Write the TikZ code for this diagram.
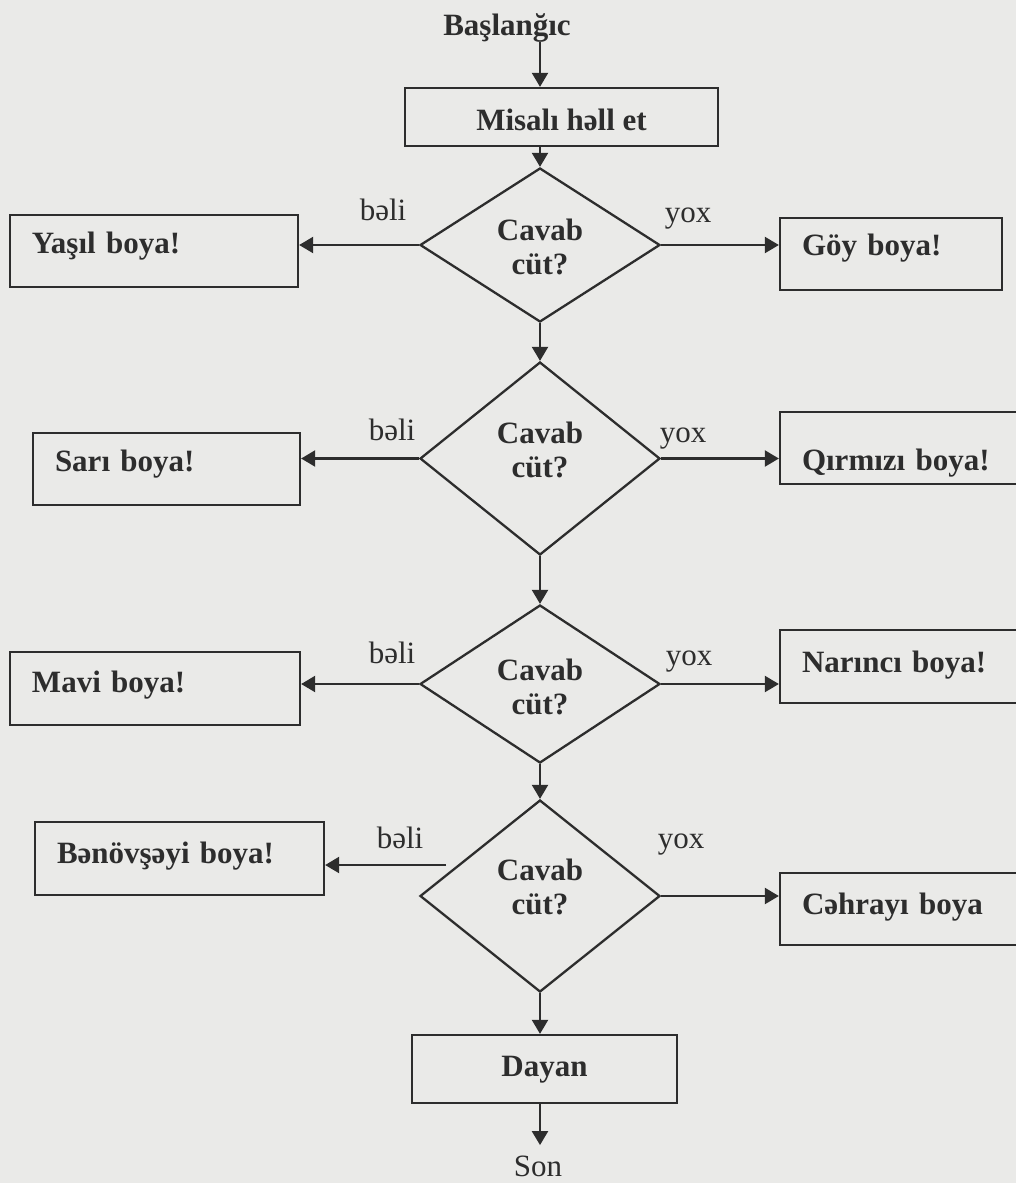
\documentclass[tikz,border=0pt]{standalone}
\usepackage{fontspec}
\setmainfont{Liberation Serif}
\usetikzlibrary{shapes.geometric,arrows.meta}
\definecolor{bg}{RGB}{234,234,232}
\definecolor{ink}{RGB}{45,45,45}
\begin{document}
\begin{tikzpicture}[x=0.5pt,y=-0.5pt,
  box/.style={draw=ink, line width=1.15pt, text=ink, inner xsep=11pt, inner ysep=0pt,
    font=\fontsize{15.5}{18}\selectfont\bfseries, text depth=0pt},
  lbox/.style={box, align=left},
  dec/.style={draw=ink, line width=1.15pt, shape=diamond, inner sep=0pt, minimum width=120pt},
  dtext/.style={font=\fontsize{15.5}{17}\selectfont\bfseries, text=ink, align=center, inner sep=0pt},
  lbl/.style={font=\fontsize{15.5}{18}\selectfont, text=ink, inner sep=0pt, anchor=base},
  arr/.style={draw=ink, line width=1.15pt, -{Triangle[length=7pt,width=8pt]}}]
\clip (0,0) rectangle (1016,1183);
\fill[bg] (0,0) rectangle (1016,1183);

% start / end texts
\node[dtext, anchor=base] (start) at (507,35) {Başlanğıc};
\node[lbl] (son) at (538,1176) {Son};

% process boxes
\node[box, minimum width=156.5pt, minimum height=29pt, text height=13pt] (misal) at (561.5,117) {Misalı həll et};
\node[box, minimum width=132.5pt, minimum height=34pt, text height=7pt] (dayan) at (544.5,1069) {Dayan};

% decisions
\node[dec, minimum height=77pt] (d1) at (540,245) {};
\node[dec, minimum height=96.5pt] (d2) at (540,458.5) {};
\node[dec, minimum height=79pt] (d3) at (540,684) {};
\node[dec, minimum height=96pt] (d4) at (540,896) {};
\node[dtext] (t1) at (540,247) {Cavab\\cüt?};
\node[dtext] (t2) at (540,449.5) {Cavab\\cüt?};
\node[dtext] (t3) at (540,687) {Cavab\\cüt?};
\node[dtext] (t4) at (540,887) {Cavab\\cüt?};

% colour boxes
\node[lbox, minimum width=144pt, minimum height=36pt, text width=122pt, text height=2pt] (yasil) at (154,251) {Yaşıl boya!};
\node[lbox, minimum width=111pt, minimum height=36pt, text width=89pt, text height=1pt] (goy) at (891,254) {Göy boya!};
\node[lbox, minimum width=133.5pt, minimum height=36pt, text width=111.5pt, text height=2pt] (sari) at (166.5,469) {Sarı boya!};
\node[lbox, minimum width=120pt, minimum height=36pt, text width=98pt, text height=22pt] (qirmizi) at (900,448) {Qırmızı boya!};
\node[lbox, minimum width=145pt, minimum height=36.5pt, text width=123pt, text height=4pt] (mavi) at (155,688.5) {Mavi boya!};
\node[lbox, minimum width=120pt, minimum height=36.5pt, text width=98pt, text height=6pt] (narinci) at (900,666.5) {Narıncı boya!};
\node[lbox, minimum width=144.5pt, minimum height=36.5pt, text width=122.5pt, text height=5pt] (benov) at (179.5,858.5) {Bənövşəyi boya!};
\node[lbox, minimum width=120pt, minimum height=36pt, text width=98pt, text height=5pt] (cehrayi) at (900,909) {Cəhrayı boya};

% labels
\node[lbl] (b1) at (383,220) {bəli};
\node[lbl] (y1) at (688,222) {yox};
\node[lbl] (b2) at (392,440) {bəli};
\node[lbl] (y2) at (683,442) {yox};
\node[lbl] (b3) at (392,663) {bəli};
\node[lbl] (y3) at (689,665) {yox};
\node[lbl] (b4) at (400,848) {bəli};
\node[lbl] (y4) at (681,848) {yox};

% main flow
\draw[arr] (d1.north |- start.south) -- (d1.north |- misal.north);
\draw[arr] (d1.north |- misal.south) -- (d1.north);
\draw[arr] (d1.south) -- (d2.north);
\draw[arr] (d2.south) -- (d3.north);
\draw[arr] (d3.south) -- (d4.north);
\draw[arr] (d4.south) -- (d4.south |- dayan.north);
\draw[arr, shorten >=5pt] (d4.south |- dayan.south) -- (d4.south |- son.north);

% branches
\draw[arr] (d1.west) -- (d1.west -| yasil.east);
\draw[arr] (d1.east) -- (d1.east -| goy.west);
\draw[arr] (d2.west) -- (d2.west -| sari.east);
\draw[arr] (d2.east) -- (d2.east -| qirmizi.west);
\draw[arr] (d3.west) -- (d3.west -| mavi.east);
\draw[arr] (d3.east) -- (d3.east -| narinci.west);
\coordinate (d4b) at (446,865);
\draw[arr] (d4b) -- (d4b -| benov.east);
\draw[arr] (d4.east) -- (d4.east -| cehrayi.west);
\end{tikzpicture}
\end{document}
